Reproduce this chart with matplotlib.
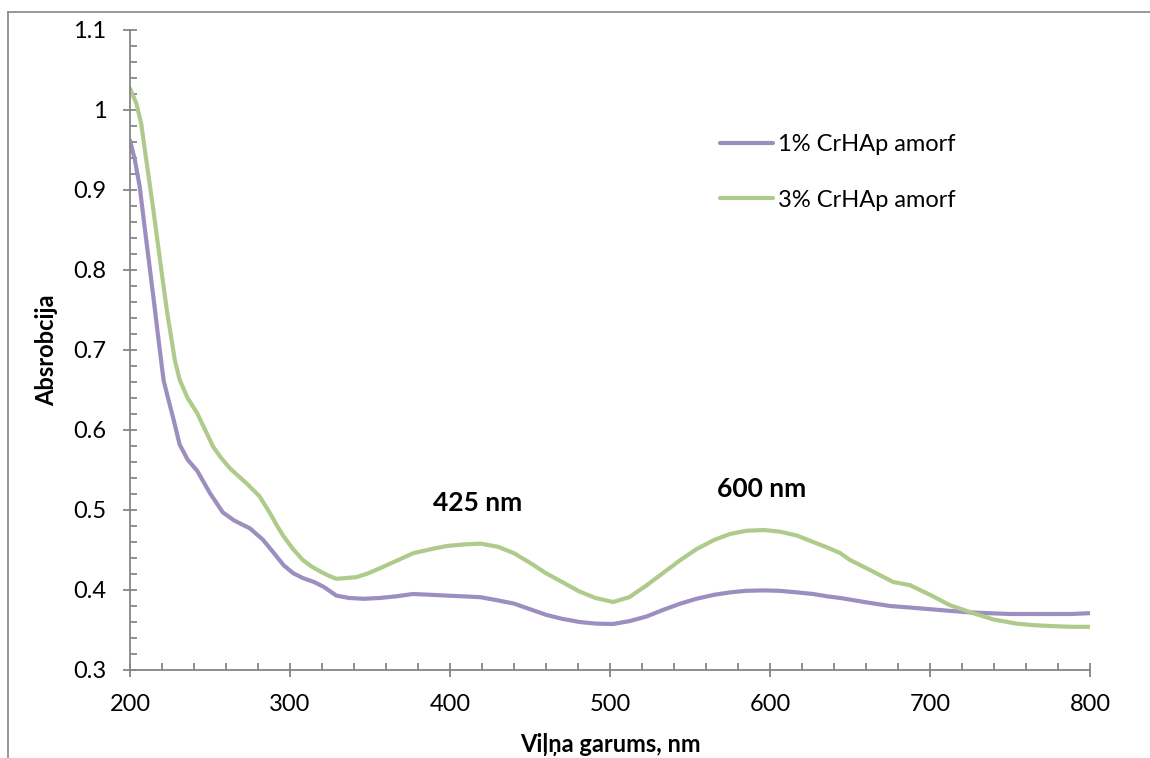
import matplotlib
matplotlib.use("Agg")
import matplotlib.pyplot as plt
from matplotlib.lines import Line2D
from matplotlib.ticker import MultipleLocator, FuncFormatter

# ── Data ─────────────────────────────────────────────────────────────────────
wl_1pct = [200, 203, 206, 209, 212, 215, 218, 221, 224, 227, 231, 236, 242,
           250, 258, 265, 275, 283, 290, 296, 302, 308, 315, 321, 329, 337,
           346, 356, 366, 377, 388, 398, 409, 419, 430, 440, 450, 460, 470,
           481, 491, 502, 512, 523, 533, 544, 554, 565, 575, 585, 596, 606,
           617, 627, 636, 644, 650, 662, 675, 688, 700, 712, 725, 737, 750,
           762, 775, 788, 800]
abs_1pct = [0.962, 0.938, 0.905, 0.856, 0.808, 0.760, 0.710, 0.662, 0.638,
            0.615, 0.582, 0.563, 0.549, 0.521, 0.497, 0.487, 0.477, 0.463,
            0.446, 0.431, 0.421, 0.415, 0.410, 0.404, 0.393, 0.390, 0.389,
            0.390, 0.392, 0.395, 0.394, 0.393, 0.392, 0.391, 0.387, 0.383,
            0.376, 0.369, 0.364, 0.360, 0.358, 0.3575, 0.361, 0.367, 0.375,
            0.383, 0.389, 0.394, 0.397, 0.399, 0.3995, 0.399, 0.397, 0.395,
            0.392, 0.390, 0.388, 0.384, 0.380, 0.378, 0.376, 0.374, 0.372,
            0.371, 0.370, 0.370, 0.370, 0.370, 0.371]

wl_3pct = [200, 204, 207, 210, 214.6, 218.75, 223, 228, 231, 236, 242, 247,
           252, 257, 262.5, 268, 273, 281, 287.5, 292, 296, 302, 308, 313,
           319, 324, 329, 335, 341.5, 349, 356, 366, 377, 388, 398, 409, 419,
           430, 440, 450, 460, 471, 481, 491, 502, 512, 523, 533, 544, 554,
           565, 575, 585, 596, 606, 617, 627, 636, 644, 650, 662.5, 677,
           687.5, 700, 712.5, 727, 740, 754, 765, 775, 788, 800]
abs_3pct = [1.027, 1.008, 0.983, 0.940, 0.875, 0.8125, 0.750, 0.6875, 0.663,
            0.640, 0.621, 0.600, 0.579, 0.565, 0.552, 0.542, 0.533, 0.517,
            0.496, 0.480, 0.467, 0.451, 0.4375, 0.430, 0.423, 0.418, 0.414,
            0.415, 0.416, 0.421, 0.427, 0.436, 0.446, 0.451, 0.455, 0.457,
            0.458, 0.454, 0.446, 0.434, 0.421, 0.409, 0.398, 0.390, 0.385,
            0.391, 0.406, 0.421, 0.4375, 0.451, 0.4625, 0.470, 0.474, 0.475,
            0.473, 0.468, 0.460, 0.453, 0.446, 0.4375, 0.425, 0.410, 0.406,
            0.394, 0.381, 0.371, 0.363, 0.358, 0.356, 0.355, 0.354, 0.354]

series_labels = ["1% CrHAp amorf", "3% CrHAp amorf"]
peak_labels = ["425 nm", "600 nm"]
peak_pos = [(417.5, 0.509), (595, 0.526)]

# ── Style ────────────────────────────────────────────────────────────────────
PURPLE = "#9C8EBF"
GREEN = "#AECB8B"
AXIS = "#868686"
FS = 17
plt.rcParams["font.family"] = ["Lato", "DejaVu Sans"]

fig = plt.figure(figsize=(11.5, 7.58), dpi=100, facecolor="white")
ax = fig.add_axes([130 / 1150, 1 - 670 / 758, 960 / 1150, 640 / 758])

ax.plot(wl_1pct, abs_1pct, color=PURPLE, lw=3.0, label=series_labels[0],
        solid_capstyle="round")
ax.plot(wl_3pct, abs_3pct, color=GREEN, lw=3.0, label=series_labels[1],
        solid_capstyle="round")

ax.set_xlim(200, 800)
ax.set_ylim(0.3, 1.1)
ax.xaxis.set_major_locator(MultipleLocator(100))
ax.xaxis.set_minor_locator(MultipleLocator(20))
ax.yaxis.set_major_locator(MultipleLocator(0.1))
ax.yaxis.set_minor_locator(MultipleLocator(0.02))
ax.yaxis.set_major_formatter(FuncFormatter(lambda v, p: f"{v:g}"))

for side in ("top", "right"):
    ax.spines[side].set_visible(False)
for side in ("left", "bottom"):
    ax.spines[side].set_color(AXIS)
    ax.spines[side].set_linewidth(1.3)

ax.tick_params(which="major", direction="inout", length=10, width=1.3,
               color=AXIS, labelsize=FS, labelcolor="black")
ax.tick_params(which="minor", direction="in", length=5, width=1.3,
               color=AXIS)
ax.tick_params(axis="x", which="major", pad=12)
ax.tick_params(axis="y", which="major", pad=12)

ax.set_xlabel("Viļņa garums, nm", fontsize=FS, fontweight="bold")
ax.set_ylabel("Absrobcija", fontsize=FS, fontweight="bold")
ax.xaxis.set_label_coords(0.5, (670 - 745) / 640)
ax.yaxis.set_label_coords((47 - 130) / 960, 0.5)
ax.xaxis.label.set_va("center")
ax.yaxis.label.set_va("center")

for txt, (x, y) in zip(peak_labels, peak_pos):
    ax.text(x, y, txt, ha="center", va="center", fontsize=19,
            fontweight="bold")

ax.legend(loc="center left", bbox_to_anchor=((720 - 130) / 960,
                                             (670 - 172.5) / 640),
          frameon=False, fontsize=FS, handlelength=2.25, handletextpad=0.2,
          labelspacing=1.45, borderpad=0, borderaxespad=0)

# chart-area border (only top and left edges fall inside the image)
fig.add_artist(Line2D([8 / 1150, 8 / 1150], [0, 1 - 12 / 758],
                      transform=fig.transFigure, color=AXIS, lw=1.2))
fig.add_artist(Line2D([8 / 1150, 1], [1 - 12 / 758, 1 - 12 / 758],
                      transform=fig.transFigure, color=AXIS, lw=1.2))

fig.savefig("out.png", dpi=100, facecolor="white")
